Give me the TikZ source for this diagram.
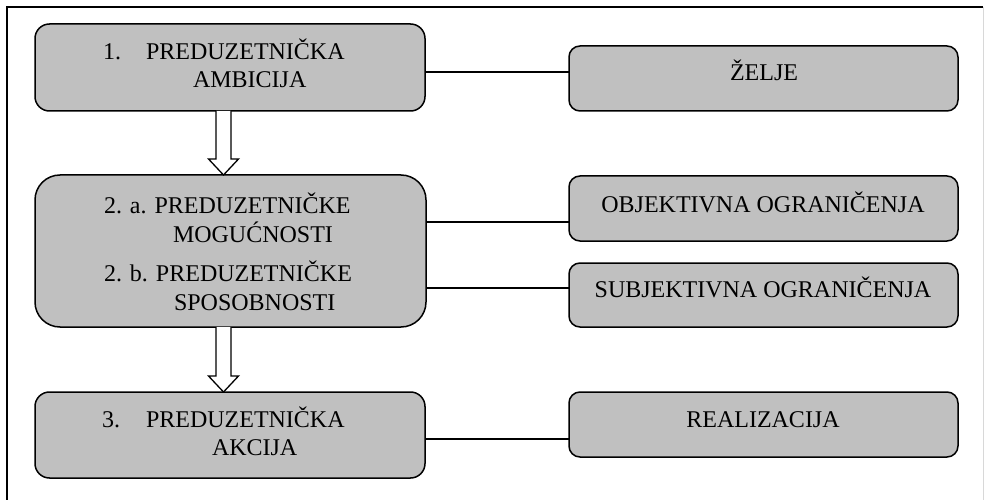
\documentclass[tikz,border=0pt]{standalone}
\usepackage{fontspec}
\setmainfont{Liberation Serif}
\usetikzlibrary{calc}
\definecolor{boxgray}{HTML}{C0C0C0}
\definecolor{edgegray}{HTML}{D8D8D8}
\tikzset{
  box/.style={draw=black, fill=boxgray, line width=1.5pt, inner sep=0pt, outer sep=0pt},
  txt/.style={inner sep=0pt, outer sep=0pt, font=\fontsize{24}{27.6}\selectfont},
  link/.style={draw=black, line width=1.3pt},
  hollow/.style={draw=black, fill=white, line width=1.3pt, line join=miter},
  frame/.style={draw=black, line width=2pt},
}
% hollow block arrow pointing down: #1 = start point, #2 = tip
\newcommand\hollowdown[2]{%
  \draw[hollow] ($(#1)+(-7.5,0)$) -- ($(#2)+(-7.5,-16)$) -- ($(#2)+(-15,-16)$)
    -- (#2) -- ($(#2)+(15,-16)$) -- ($(#2)+(7.5,-16)$) -- ($(#1)+(7.5,0)$);}
\begin{document}
\begin{tikzpicture}[x=1pt, y=-1pt]
  \useasboundingbox (0,0) rectangle (986,500);
  % outer frame
  \draw[frame] (7,500) -- (7,7) -- (983,7);
  \draw[draw=edgegray, line width=1pt] (983,7) -- (983,500);

  % left column
  \node[box, minimum width=390pt, minimum height=87pt, rounded corners=14.5pt] (b1) at (230,67.5) {};
  \node[box, minimum width=391pt, minimum height=152pt, rounded corners=25pt] (b2) at (230.5,251) {};
  \node[box, minimum width=390pt, minimum height=86pt, rounded corners=14.5pt] (b3) at (230,435) {};

  % right column
  \node[box, minimum width=389pt, minimum height=65pt, rounded corners=11pt] (r1) at (763.5,78.5) {};
  \node[box, minimum width=389pt, minimum height=65pt, rounded corners=11pt] (r2) at (763.5,208.5) {};
  \node[box, minimum width=389pt, minimum height=64pt, rounded corners=11pt] (r3) at (763.5,295) {};
  \node[box, minimum width=389pt, minimum height=65pt, rounded corners=11pt] (r4) at (763.5,424.5) {};

  % texts of the left column
  \node[txt, anchor=base west] (n1) at (103,60) {1.};
  \node[txt, anchor=base west] (t1a) at (146,60) {PREDUZETNIČKA};
  \node[txt, anchor=base west] (t1b) at (193,88) {AMBICIJA};
  \node[txt, anchor=base west] (t2a) at (104,214) {2. a. PREDUZETNIČKE};
  \node[txt, anchor=base west] (t2b) at (173,242) {MOGUĆNOSTI};
  \node[txt, anchor=base west] (t2c) at (104,281) {2. b. PREDUZETNIČKE};
  \node[txt, anchor=base west] (t2d) at (174,310) {SPOSOBNOSTI};
  \node[txt, anchor=base west] (n3) at (102,427) {3.};
  \node[txt, anchor=base west] (t3a) at (146,427) {PREDUZETNIČKA};
  \node[txt, anchor=base west] (t3b) at (212,455) {AKCIJA};

  % texts of the right column
  \node[txt, anchor=base] (s1) at (764,81) {ŽELJE};
  \node[txt, anchor=base] (s2) at (763,212) {OBJEKTIVNA OGRANIČENJA};
  \node[txt, anchor=base] (s3) at (763,297) {SUBJEKTIVNA OGRANIČENJA};
  \node[txt, anchor=base] (s4) at (763,427) {REALIZACIJA};

  % horizontal links
  \coordinate (y1) at (0,72);
  \coordinate (y2) at (0,222);
  \coordinate (y3) at (0,288);
  \coordinate (y4) at (0,439);
  \draw[link] (b1.east |- y1) -- (r1.west |- y1);
  \draw[link] (b2.east |- y2) -- (r2.west |- y2);
  \draw[link] (b2.east |- y3) -- (r3.west |- y3);
  \draw[link] (b3.east |- y4) -- (r4.west |- y4);

  % hollow arrows between the stages
  \coordinate (ax) at (223.5,0);
  \coordinate (a1s) at (ax |- b1.south);
  \coordinate (a1e) at (ax |- b2.north);
  \coordinate (a2s) at (ax |- b2.south);
  \coordinate (a2e) at (ax |- b3.north);
  \hollowdown{a1s}{a1e}
  \hollowdown{a2s}{a2e}
\end{tikzpicture}
\end{document}
